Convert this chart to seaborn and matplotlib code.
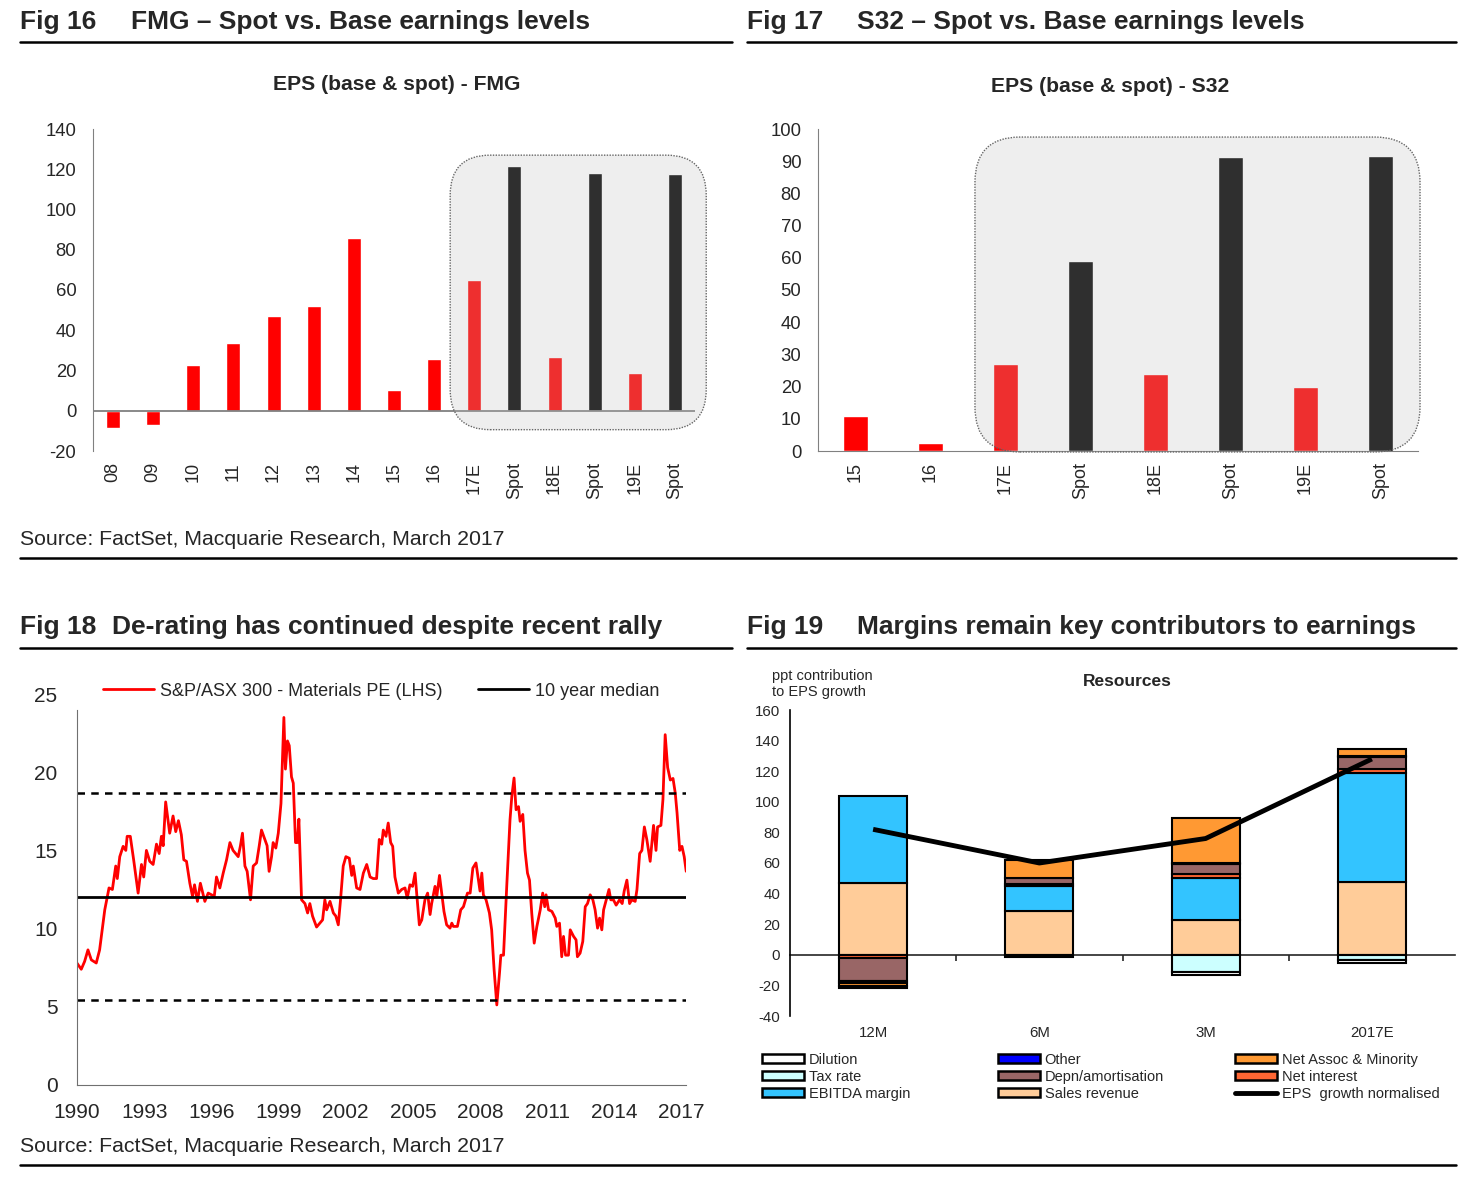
import numpy as np
import pandas as pd
import matplotlib
matplotlib.use("Agg")
import matplotlib.pyplot as plt
import seaborn as sns
from matplotlib.lines import Line2D
from matplotlib.patches import Patch, FancyBboxPatch
from matplotlib.transforms import IdentityTransform

# ---------------- data ----------------
fmg_labels = ["08", "09", "10", "11", "12", "13", "14", "15", "16", "17E", "Spot", "18E", "Spot", "19E", "Spot"]
fmg_values = [-8.4, -7.0, 22.8, 33.7, 47.1, 52.0, 85.9, 10.4, 25.8, 65.0, 121.6, 26.8, 118.0, 18.9, 117.6]
fmg_kind = ["Base"] * 10 + ["Spot", "Base", "Spot", "Base", "Spot"]

s32_labels = ["15", "16", "17E", "Spot", "18E", "Spot", "19E", "Spot"]
s32_values = [10.9, 2.5, 27.0, 59.0, 24.0, 91.3, 20.0, 91.6]
s32_kind = ["Base", "Base", "Base", "Spot", "Base", "Spot", "Base", "Spot"]

pe_years = [1990.00, 1990.19, 1990.34, 1990.49, 1990.64, 1990.86, 1991.01, 1991.24, 1991.43, 1991.58,
            1991.73, 1991.80, 1991.91, 1992.06, 1992.18, 1992.24, 1992.38, 1992.53, 1992.73, 1992.88,
            1992.98, 1993.10, 1993.25, 1993.40, 1993.55, 1993.67, 1993.77, 1993.85, 1993.96, 1994.14,
            1994.29, 1994.41, 1994.53, 1994.66, 1994.77, 1994.89, 1995.04, 1995.16, 1995.25, 1995.38,
            1995.51, 1995.71, 1995.86, 1996.01, 1996.13, 1996.23, 1996.38, 1996.53, 1996.68, 1996.83,
            1996.97, 1997.20, 1997.30, 1997.39, 1997.50, 1997.60, 1997.75, 1997.87, 1998.02, 1998.14,
            1998.24, 1998.39, 1998.49, 1998.58, 1998.69, 1998.76, 1998.88, 1998.99, 1999.11, 1999.24,
            1999.31, 1999.40, 1999.48, 1999.58, 1999.66, 1999.76, 1999.84, 1999.91, 2000.03, 2000.18,
            2000.30, 2000.40, 2000.52, 2000.70, 2000.85, 2000.97, 2001.07, 2001.15, 2001.30, 2001.45,
            2001.56, 2001.67, 2001.77, 2001.89, 2002.01, 2002.16, 2002.27, 2002.34, 2002.49, 2002.64,
            2002.79, 2002.94, 2003.09, 2003.23, 2003.38, 2003.50, 2003.61, 2003.68, 2003.80, 2003.90,
            2004.01, 2004.10, 2004.20, 2004.35, 2004.50, 2004.65, 2004.75, 2004.87, 2004.99, 2005.10,
            2005.17, 2005.29, 2005.40, 2005.54, 2005.66, 2005.77, 2005.84, 2005.99, 2006.07, 2006.19,
            2006.29, 2006.39, 2006.51, 2006.66, 2006.74, 2006.81, 2006.99, 2007.14, 2007.26, 2007.44,
            2007.56, 2007.68, 2007.82, 2007.93, 2008.00, 2008.08, 2008.15, 2008.27, 2008.42, 2008.52,
            2008.63, 2008.75, 2008.87, 2008.93, 2009.05, 2009.20, 2009.34, 2009.42, 2009.52, 2009.61,
            2009.72, 2009.79, 2009.91, 2010.01, 2010.12, 2010.21, 2010.31, 2010.42, 2010.54, 2010.69,
            2010.80, 2010.89, 2010.95, 2011.06, 2011.21, 2011.36, 2011.43, 2011.55, 2011.65, 2011.73,
            2011.82, 2011.95, 2012.03, 2012.18, 2012.29, 2012.35, 2012.47, 2012.59, 2012.70, 2012.80,
            2012.92, 2013.04, 2013.14, 2013.25, 2013.34, 2013.44, 2013.52, 2013.64, 2013.76, 2013.84,
            2013.96, 2014.08, 2014.23, 2014.35, 2014.44, 2014.56, 2014.68, 2014.78, 2014.93, 2015.01,
            2015.13, 2015.23, 2015.34, 2015.45, 2015.60, 2015.75, 2015.86, 2015.93, 2016.08, 2016.17,
            2016.27, 2016.38, 2016.50, 2016.62, 2016.72, 2016.80, 2016.92, 2017.02, 2017.12, 2017.21]
pe_values = [7.79, 7.4, 7.9, 8.64, 8.0, 7.8, 8.64, 11.2, 12.6, 12.5,
             14.0, 13.2, 14.6, 15.26, 15.0, 15.9, 15.9, 14.4, 12.27, 14.1,
             13.3, 15.0, 14.3, 14.1, 15.4, 14.8, 15.9, 15.3, 18.1, 16.1,
             17.2, 16.2, 16.9, 16.0, 14.4, 14.3, 12.9, 12.06, 12.8, 11.74,
             12.9, 11.74, 12.27, 12.16, 12.06, 13.3, 12.6, 13.55, 14.4, 15.5,
             15.0, 14.6, 15.3, 16.1, 14.0, 13.66, 11.84, 14.0, 14.2, 15.3,
             16.3, 15.7, 15.3, 13.66, 14.6, 15.5, 15.15, 16.1, 18.0, 23.5,
             20.2, 22.0, 21.7, 19.7, 19.3, 15.5, 15.5, 17.0, 11.84, 11.6,
             11.0, 11.6, 10.8, 10.1, 10.35, 10.56, 11.84, 11.2, 11.74, 11.0,
             10.8, 10.24, 11.84, 14.0, 14.6, 14.5, 13.4, 14.0, 12.6, 12.5,
             13.55, 14.1, 13.3, 13.2, 13.2, 15.7, 15.4, 16.3, 15.9, 16.75,
             15.5, 15.26, 13.3, 12.27, 12.5, 12.6, 11.95, 12.8, 12.7, 13.55,
             12.27, 10.24, 10.56, 11.84, 12.27, 10.9, 11.6, 12.7, 12.06, 13.4,
             12.27, 11.1, 10.24, 10.03, 10.35, 10.14, 10.14, 11.2, 11.4, 12.27,
             12.27, 13.87, 14.2, 13.1, 12.4, 13.55, 12.16, 11.84, 11.0, 9.92,
             7.36, 5.12, 7.15, 8.3, 8.3, 12.9, 16.96, 18.46, 19.63, 17.6,
             17.8, 16.86, 17.3, 15.0, 13.55, 13.1, 11.0, 9.07, 10.14, 11.2,
             12.27, 11.4, 12.16, 11.2, 11.1, 10.67, 10.14, 10.35, 8.2, 9.5,
             8.3, 8.3, 9.92, 9.5, 9.28, 8.2, 8.43, 9.18, 11.4, 11.6,
             12.16, 11.84, 11.2, 10.03, 10.67, 9.92, 11.2, 11.84, 12.5, 11.84,
             11.84, 11.5, 11.84, 11.6, 12.4, 13.1, 11.6, 11.84, 11.74, 12.5,
             14.8, 15.0, 16.5, 15.7, 14.3, 16.6, 15.0, 16.5, 16.6, 18.25,
             22.4, 20.3, 19.5, 19.6, 18.67, 17.4, 15.0, 15.26, 14.6, 13.66]
pe_median = 12.05
pe_upper = 18.65
pe_lower = 5.45
pe_xticks = [1990, 1993, 1996, 1999, 2002, 2005, 2008, 2011, 2014, 2017]

m_cats = ["12M", "6M", "3M", "2017E"]
sales_revenue = [47.0, 28.5, 23.0, 47.4]
ebitda_margin = [57.0, 16.5, 27.0, 71.6]
net_interest = [-2.4, 1.0, 3.0, 2.5]
depn_amortisation = [-14.6, 4.0, 6.5, 8.0]
other = [-1.2, 0.0, 0.4, 0.4]
net_assoc_minority = [-2.2, 12.0, 29.5, 4.8]
tax_rate = [0.0, 0.0, -11.5, -3.5]
dilution = [-1.5, -1.5, -1.5, -2.0]
eps_growth_normalised = [82, 60, 76, 128]

# ---------------- style ----------------
sns.set_style("white")
plt.rcParams["font.family"] = ["Liberation Sans", "DejaVu Sans"]
plt.rcParams["axes.unicode_minus"] = False

W, H = 1463, 1190
fig = plt.figure(figsize=(W / 100, H / 100), dpi=100)


def add_ax(l, t, r, b):
    return fig.add_axes([l / W, 1 - b / H, (r - l) / W, (b - t) / H])


def ftext(x, y, s, **kw):
    fig.text(x / W, 1 - y / H, s, **kw)


def hrule(x0, x1, y, lw=1.8):
    fig.add_artist(Line2D([x0 / W, x1 / W], [1 - y / H, 1 - y / H], color="black", lw=lw,
                          transform=fig.transFigure))


def shade_box(ax, x0, x1, y0, y1, radius):
    fig.canvas.draw()
    p0 = ax.transData.transform((x0, y0))
    p1 = ax.transData.transform((x1, y1))
    box = FancyBboxPatch((p0[0], p0[1]), p1[0] - p0[0], p1[1] - p0[1],
                         boxstyle=f"round,pad=0,rounding_size={radius}",
                         transform=IdentityTransform(), facecolor=(0.737, 0.737, 0.737, 0.25),
                         edgecolor="#666666", lw=1.0, ls=(0, (1, 1)), zorder=5, clip_on=False)
    fig.add_artist(box)


# ---------------- headers ----------------
TF = 19
ftext(20, 22, "Fig 16", fontsize=TF, fontweight="bold", va="center")
ftext(131, 22, "FMG – Spot vs. Base earnings levels", fontsize=TF, fontweight="bold", va="center")
ftext(747, 22, "Fig 17", fontsize=TF, fontweight="bold", va="center")
ftext(857, 22, "S32 – Spot vs. Base earnings levels", fontsize=TF, fontweight="bold", va="center")
ftext(20, 627, "Fig 18", fontsize=TF, fontweight="bold", va="center")
ftext(112, 627, "De-rating has continued despite recent rally", fontsize=TF, fontweight="bold", va="center")
ftext(747, 627, "Fig 19", fontsize=TF, fontweight="bold", va="center")
ftext(857, 627, "Margins remain key contributors to earnings", fontsize=TF, fontweight="bold", va="center")
hrule(20, 732, 42)
hrule(747, 1456, 42)
hrule(20, 1456, 558)
hrule(20, 732, 648)
hrule(747, 1456, 648)
hrule(20, 1456, 1165)
ftext(20, 540, "Source: FactSet, Macquarie Research, March 2017", fontsize=15.3, va="center")
ftext(20, 1146, "Source: FactSet, Macquarie Research, March 2017", fontsize=15.3, va="center")

bar_pal = {"Base": "#FF0000", "Spot": "#000000"}

# ---------------- Fig 16 ----------------
ax1 = add_ax(93, 129, 695, 451)
df1 = pd.DataFrame({"pos": range(len(fmg_values)), "eps": fmg_values, "kind": fmg_kind})
sns.barplot(data=df1, x="pos", y="eps", hue="kind", palette=bar_pal, dodge=False, width=0.35,
            saturation=1, legend=False, ax=ax1)
ax1.set_xlim(-0.5, len(fmg_values) - 0.5)
ax1.set_ylim(-20, 140)
ax1.set_yticks(range(-20, 141, 20))
ax1.set_xticks(range(len(fmg_labels)))
ax1.set_xticklabels(fmg_labels, rotation=90)
ax1.set_xlabel("")
ax1.set_ylabel("")
ax1.axhline(0, color="#808080", lw=1.3, zorder=1)
for s in ["top", "right", "bottom"]:
    ax1.spines[s].set_visible(False)
ax1.spines["left"].set_color("#808080")
ax1.tick_params(axis="x", length=0, pad=8, labelsize=13)
ax1.tick_params(axis="y", length=0, pad=12, labelsize=13.3)
ftext(397, 84, "EPS (base & spot) - FMG", fontsize=15.2, fontweight="bold", ha="center", va="center")

# ---------------- Fig 17 ----------------
ax2 = add_ax(818, 129, 1418, 451)
df2 = pd.DataFrame({"pos": range(len(s32_values)), "eps": s32_values, "kind": s32_kind})
sns.barplot(data=df2, x="pos", y="eps", hue="kind", palette=bar_pal, dodge=False, width=0.33,
            saturation=1, legend=False, ax=ax2)
ax2.set_xlim(-0.5, len(s32_values) - 0.5)
ax2.set_ylim(0, 100)
ax2.set_yticks(range(0, 101, 10))
ax2.set_xticks(range(len(s32_labels)))
ax2.set_xticklabels(s32_labels, rotation=90)
ax2.set_xlabel("")
ax2.set_ylabel("")
for s in ["top", "right"]:
    ax2.spines[s].set_visible(False)
ax2.spines["left"].set_color("#808080")
ax2.spines["bottom"].set_color("#808080")
ax2.tick_params(axis="x", length=0, pad=8, labelsize=13)
ax2.tick_params(axis="y", length=0, pad=12, labelsize=13.3)
ftext(1110, 87, "EPS (base & spot) - S32", fontsize=15.2, fontweight="bold", ha="center", va="center")

# ---------------- Fig 18 ----------------
ax3 = add_ax(77, 694, 686, 1085)
sns.lineplot(x=pe_years, y=pe_values, color="#FF0000", lw=2, ax=ax3,
             label="S&P/ASX 300 - Materials PE (LHS)", sort=False)
ax3.axhline(pe_median, color="black", lw=2, label="10 year median")
ax3.axhline(pe_upper, color="black", lw=1.8, ls=(0, (3, 2.5)))
ax3.axhline(pe_lower, color="black", lw=1.8, ls=(0, (3, 2.5)))
ax3.set_xlim(1990, 2017.2)
ax3.set_ylim(0, 25)
ax3.set_xticks(pe_xticks)
ax3.set_yticks(range(0, 26, 5))
ax3.set_xlabel("")
ax3.set_ylabel("")
for s in ["top", "right"]:
    ax3.spines[s].set_visible(False)
ax3.spines["left"].set_color("#707070")
ax3.spines["bottom"].set_color("#707070")
ax3.spines["left"].set_bounds(0, 24)
ax3.tick_params(axis="both", direction="out", length=5, color="#707070", labelsize=15, width=1)
ax3.tick_params(axis="x", pad=8)
ax3.tick_params(axis="y", pad=9)
ax3.yaxis.get_major_ticks()[-1].tick1line.set_visible(False)
ax3.legend(loc="center left", bbox_to_anchor=(103 / W, 1 - 691 / H), bbox_transform=fig.transFigure,
           ncol=2, frameon=False, fontsize=13, handlelength=2.8, columnspacing=2.0,
           handletextpad=0.35, borderaxespad=0, borderpad=0)

# ---------------- Fig 19 ----------------
ax4 = add_ax(790, 710, 1455, 1016)
components = [
    ("Sales revenue", sales_revenue, "#FFCC99"),
    ("EBITDA margin", ebitda_margin, "#33C4FF"),
    ("Net interest", net_interest, "#FF6633"),
    ("Depn/amortisation", depn_amortisation, "#996666"),
    ("Other", other, "#0000FF"),
    ("Net Assoc & Minority", net_assoc_minority, "#FF9933"),
    ("Tax rate", tax_rate, "#CCFFFF"),
    ("Dilution", dilution, "#FFFFFF"),
]
xpos = np.arange(len(m_cats))
pos_base = np.zeros(len(m_cats))
neg_base = np.zeros(len(m_cats))
for name, vals, col in components:
    vals = np.array(vals, dtype=float)
    bottoms = np.where(vals >= 0, pos_base, neg_base)
    mask = vals != 0
    ax4.bar(xpos[mask], vals[mask], bottom=bottoms[mask], width=0.41, color=col,
            edgecolor="black", lw=1.5, zorder=3)
    pos_base = pos_base + np.where(vals > 0, vals, 0)
    neg_base = neg_base + np.where(vals < 0, vals, 0)
ax4.plot(xpos, eps_growth_normalised, color="black", lw=3.5, zorder=6, solid_capstyle="butt")
ax4.set_xlim(-0.5, len(m_cats) - 0.5)
ax4.set_ylim(-40, 160)
ax4.set_yticks(range(-40, 161, 20))
ax4.set_xticks(xpos)
ax4.set_xticklabels(m_cats)
for s in ["top", "right", "bottom"]:
    ax4.spines[s].set_visible(False)
ax4.spines["left"].set_color("black")
ax4.spines["left"].set_linewidth(1.2)
ax4.tick_params(axis="x", length=0, pad=7, labelsize=10.8)
ax4.tick_params(axis="y", direction="out", length=4, width=1.2, labelsize=10.8, pad=3)
sec = ax4.secondary_xaxis(40 / 200)
sec.set_xticks(xpos[:-1] + 0.5)
sec.set_xticklabels([""] * (len(m_cats) - 1))
sec.tick_params(direction="out", length=4, width=1.2)
sec.spines["bottom"].set_linewidth(1.2)
ftext(1127, 682, "Resources", fontsize=12.5, fontweight="bold", ha="center", va="center")
ftext(772, 684, "ppt contribution\nto EPS growth", fontsize=10.5, va="center", linespacing=1.15)

legend_cols = [
    (762, [("Dilution", "#FFFFFF"), ("Tax rate", "#CCFFFF"), ("EBITDA margin", "#33C4FF")]),
    (998, [("Other", "#0000FF"), ("Depn/amortisation", "#996666"), ("Sales revenue", "#FFCC99")]),
    (1235, [("Net Assoc & Minority", "#FF9933"), ("Net interest", "#FF6633"), ("EPS  growth normalised", None)]),
]
for x0, items in legend_cols:
    handles = []
    for lab, col in items:
        if col is None:
            handles.append(Line2D([], [], color="black", lw=3.5, label=lab))
        else:
            handles.append(Patch(facecolor=col, edgecolor="black", lw=1.8, label=lab))
    fig.legend(handles=handles, loc="upper left", bbox_to_anchor=(x0 / W, 1 - 1053 / H),
               bbox_transform=fig.transFigure, frameon=False, fontsize=10.5, handlelength=2.9,
               handleheight=0.6, handletextpad=0.3, labelspacing=0.2, borderaxespad=0, borderpad=0)

# shaded highlight boxes (above bars, semi-transparent)
shade_box(ax1, 8.40, 14.78, -9.4, 127.0, 40)
shade_box(ax2, 1.593, 7.527, -0.3, 97.5, 45)

fig.savefig("out.png", dpi=100)
